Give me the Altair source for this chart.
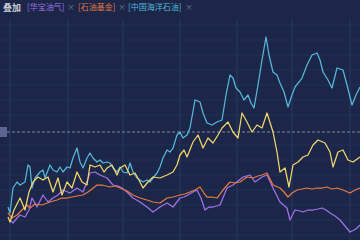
import altair as alt
import pandas as pd

# ---- data (percent change) ----
series_names = ["华宝油气", "石油基金", "中国海洋石油", "主图"]
series_colors = ["#a072e6", "#e8793f", "#56b8da", "#f2d86a"]

cyan_t = [8, 10, 13, 17, 20, 25, 28, 30, 32, 35, 40, 43, 45, 50, 53, 57, 60, 63, 67, 70,
          73, 77, 80, 83, 87, 90, 93, 97, 100, 103, 107, 110, 113, 117, 120, 123, 127, 130, 133, 137,
          140, 143, 147, 150, 153, 157, 160, 163, 167, 170, 173, 177, 180, 183, 187, 190, 195, 200, 203, 207,
          212, 217, 222, 226, 230, 233, 236, 240, 244, 248, 251, 254, 258, 262, 266, 269, 273, 277, 280, 284,
          288, 292, 295, 299, 302, 307, 312, 317, 320, 323, 328, 332, 337, 343, 347, 352, 356, 360]
cyan_v = [-15.0, -16.2, -11.2, -10.0, -10.6, -10.0, -6.6, -7.0, -11.2, -9.2, -8.0, -7.6, -9.2, -6.6, -7.6,
          -8.0, -7.0, -8.0, -7.0, -7.2, -5.2, -3.2, -6.0, -7.2, -5.2, -4.2, -5.2, -6.0, -5.6, -6.2,
          -6.0, -6.2, -7.2, -8.0, -7.0, -8.0, -8.2, -6.2, -8.0, -9.2, -9.6, -10.0, -9.6, -10.0, -9.2,
          -8.2, -7.0, -5.2, -3.6, -4.0, -3.2, -0.6, 0.0, -1.2, -0.6, 0.8, 6.4, 6.0, 3.8, 1.8,
          1.4, 2.0, 2.4, 7.4, 11.4, 10.8, 8.8, 8.0, 6.4, 7.4, 5.8, 4.8, 9.4, 14.4, 19.0,
          15.4, 12.0, 11.4, 9.8, 8.0, 5.0, 7.4, 9.0, 10.0, 10.8, 13.4, 15.4, 15.8, 14.4, 12.0,
          10.4, 8.8, 12.8, 12.4, 9.4, 5.4, 7.4, 9.0]

yellow_t = [8, 10, 14, 20, 25, 29, 33, 38, 43, 48, 53, 58, 62, 67, 72, 77, 82, 87, 90, 95,
            100, 104, 107, 112, 117, 120, 125, 130, 135, 140, 143, 148, 153, 160, 167, 173, 177, 180, 184, 187,
            193, 198, 203, 208, 213, 218, 222, 228, 233, 238, 242, 247, 252, 257, 262, 267, 273, 277, 280, 285,
            289, 293, 298, 303, 308, 313, 318, 325, 330, 333, 338, 343, 348, 353, 360]
yellow_v = [-17.0, -18.0, -15.6, -13.2, -15.6, -12.0, -10.0, -9.0, -9.6, -9.0,
            -12.0, -9.2, -12.6, -10.0, -11.2, -8.0, -10.0, -10.6, -6.6, -7.0,
            -6.6, -8.0, -7.2, -6.6, -8.6, -7.2, -6.6, -8.6, -8.2, -10.0,
            -11.2, -10.0, -9.0, -9.2, -8.6, -8.0, -6.6, -4.6, -3.6, -5.0,
            -2.0, -0.6, -3.2, -1.2, -2.2, -0.6, 0.8, 2.0, 0.0, -1.2,
            3.8, 2.0, 0.0, 1.4, 0.8, 3.8, 0.0, -4.0, -8.0, -7.2,
            -11.0, -6.6, -6.0, -5.0, -4.6, -2.6, -1.6, -2.2, -4.0, -7.0,
            -4.0, -3.6, -5.6, -6.0, -5.0]

orange_t = [8, 12, 17, 22, 27, 30, 35, 42, 50, 57, 62, 67, 72, 77, 83, 88, 92, 97, 102, 110,
            115, 120, 127, 133, 140, 147, 153, 160, 167, 173, 180, 185, 190, 195, 200, 204, 207, 212, 217, 223,
            230, 235, 240, 247, 253, 258, 262, 267, 273, 280, 284, 288, 292, 297, 302, 307, 312, 317, 322, 327,
            332, 337, 343, 350, 355, 360]
orange_v = [-16.2, -17.2, -16.6, -15.6, -14.6, -15.2, -14.4, -14.6, -14.0, -13.6,
            -13.2, -13.2, -13.0, -12.8, -12.6, -12.0, -11.4, -10.6, -10.6, -11.0,
            -10.8, -11.2, -11.8, -12.6, -13.2, -13.6, -14.0, -14.2, -13.2, -13.0,
            -12.6, -12.4, -12.0, -11.6, -11.0, -12.2, -13.0, -13.0, -13.2, -11.6,
            -10.0, -10.2, -10.0, -9.0, -9.2, -8.8, -8.6, -8.2, -10.6, -11.2,
            -12.0, -13.0, -12.2, -11.6, -11.4, -11.2, -11.4, -11.2, -11.2, -11.0,
            -11.4, -11.2, -11.6, -12.2, -11.6, -11.2]

purple_t = [10, 13, 17, 20, 25, 29, 32, 37, 43, 48, 53, 58, 63, 70, 77, 83, 90, 95, 100, 107,
            113, 118, 122, 127, 133, 140, 147, 153, 160, 167, 173, 180, 184, 188, 193, 197, 201, 205, 209, 213,
            220, 227, 233, 238, 243, 250, 255, 262, 267, 273, 280, 287, 290, 295, 300, 303, 308, 313, 318, 322,
            326, 330, 335, 340, 345, 350, 354, 357, 360]
purple_v = [-17.6, -18.2, -17.2, -16.6, -17.0, -15.6, -13.2, -15.0, -12.6, -14.0,
            -13.2, -12.6, -11.6, -12.2, -11.2, -12.0, -8.2, -8.0, -8.6, -9.2,
            -10.6, -10.8, -11.2, -12.0, -13.2, -14.0, -15.0, -16.0, -15.0, -14.2,
            -15.0, -13.2, -13.0, -12.6, -12.0, -11.6, -13.2, -15.6, -15.0, -15.0,
            -14.6, -11.2, -10.6, -9.8, -9.0, -8.6, -10.0, -9.0, -8.6, -11.2,
            -14.0, -15.2, -17.6, -15.6, -15.8, -16.0, -15.6, -15.6, -15.4, -15.2,
            -15.6, -16.2, -16.8, -17.6, -18.8, -20.0, -19.6, -19.2, -18.6]

vgrid_t = [10, 68, 123, 180, 237, 292, 350]
hgrid_v = [21.4, 18.4, 15.4, 12.4, 9.4, 6.4, 3.4, -2.6, -5.6, -8.6, -11.6, -14.6, -17.6, -20.6]
base_value = [0.0]

legend_labels = ["[华宝油气]", "[石油基金]", "[中国海洋石油]"]

# ---- build table ----
frames = []
for name, t, v in [("华宝油气", purple_t, purple_v), ("石油基金", orange_t, orange_v),
                   ("中国海洋石油", cyan_t, cyan_v), ("主图", yellow_t, yellow_v)]:
    frames.append(pd.DataFrame({"t": t, "v": v, "s": name}))
df = pd.concat(frames, ignore_index=True)

BG = "#1b2648"
xs = alt.Scale(domain=[0, 360], nice=False, zero=False)
ys = alt.Scale(domain=[-21.6, 22.4], nice=False, zero=False)

vgrid = alt.Chart(pd.DataFrame({"t": vgrid_t})).mark_rule(color="#2c3b63", strokeWidth=1).encode(
    x=alt.X("t:Q", scale=xs, axis=None))
hgrid = alt.Chart(pd.DataFrame({"v": hgrid_v})).mark_rule(color="#222f55", strokeWidth=1).encode(
    y=alt.Y("v:Q", scale=ys, axis=None))

base_rule = alt.Chart(pd.DataFrame({"v": base_value})).mark_rule(
    color="#7c86a2", strokeDash=[3, 2], strokeWidth=1).encode(
    y=alt.Y("v:Q", scale=ys, axis=None))

lines = alt.Chart(df).mark_line(strokeWidth=1.25, strokeJoin="round").encode(
    x=alt.X("t:Q", scale=xs, axis=None),
    y=alt.Y("v:Q", scale=ys, axis=None),
    color=alt.Color("s:N", scale=alt.Scale(domain=series_names, range=series_colors), legend=None),
    order=alt.Order("t:Q"),
)

marker = alt.Chart(pd.DataFrame({"v": base_value})).mark_rect(
    color="#5d648f", yOffset=-5, y2Offset=5).encode(
    x=alt.value(0), x2=alt.value(7),
    y=alt.Y("v:Q", scale=ys, axis=None), y2=alt.Y2("v:Q"))

FONT = "Noto Sans CJK SC"
title_txt = alt.Chart(pd.DataFrame({"txt": ["叠加"]})).mark_text(
    align="left", baseline="middle", font=FONT, fontSize=9, fontWeight="bold", color="#c9cdd8").encode(
    x=alt.value(3), y=alt.value(-12), text="txt:N")

leg_parts = []
leg_x = [27, 78, 128]
close_x = [67, 118, 185]
for lab, col, lx, cx in zip(legend_labels, series_colors[:3], leg_x, close_x):
    leg_parts.append(alt.Chart(pd.DataFrame({"txt": [lab]})).mark_text(
        align="left", baseline="middle", font=FONT, fontSize=8, color=col).encode(
        x=alt.value(lx), y=alt.value(-12), text="txt:N"))
    leg_parts.append(alt.Chart(pd.DataFrame({"txt": ["×"]})).mark_text(
        align="left", baseline="middle", font=FONT, fontSize=8, color="#6d7692").encode(
        x=alt.value(cx), y=alt.value(-12), text="txt:N"))

chart = alt.layer(vgrid, hgrid, base_rule, lines, marker, title_txt, *leg_parts).properties(
    width=360, height=220,
    background=BG,
    padding={"left": 0, "top": 20, "right": 0, "bottom": 0},
    autosize=alt.AutoSizeParams(type="none"),
).configure_view(stroke=None, fill=BG)

chart.save("out.html", embed_options={"renderer": "svg", "actions": False})
